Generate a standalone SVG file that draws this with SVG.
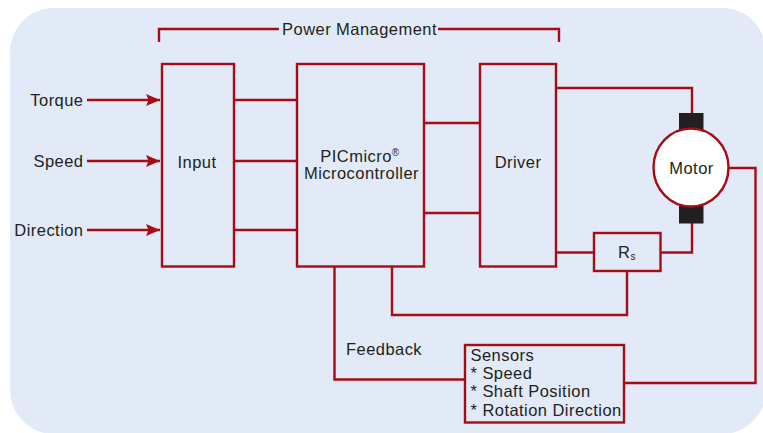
<svg xmlns="http://www.w3.org/2000/svg" width="763" height="433" viewBox="0 0 763 433">
<style>
.ln{fill:none;stroke:#a50d16;stroke-width:2.4;stroke-linejoin:miter}
.bx{fill:none;stroke:#a50d16;stroke-width:2.4}
.t{font-family:"Liberation Sans",Arial,sans-serif;font-size:16.5px;letter-spacing:0.45px;fill:#231f20}
.blk{fill:#231f20}
</style>
<defs>
<marker id="arr" markerWidth="14" markerHeight="12" viewBox="0 0 14 12" refX="14" refY="6" orient="auto" markerUnits="userSpaceOnUse">
<path d="M0,0 L14,6 L0,12 L2.5,6 Z" fill="#a50d16"/>
</marker>
</defs>
<rect x="10" y="8" width="756" height="426" rx="44" ry="44" fill="#e1eaf6"/>
<g id="power-management">
<path class="ln" d="M159,42 V29 H279 M438,29 H559 V42"/>
<text class="t" x="359.5" y="34.5" text-anchor="middle">Power Management</text>
</g>
<g id="connectors">
<path class="ln" d="M87,100 H160" marker-end="url(#arr)"/>
<path class="ln" d="M87,161 H160" marker-end="url(#arr)"/>
<path class="ln" d="M87,230 H160" marker-end="url(#arr)"/>
<path class="ln" d="M234,100 H297 M234,161 H297 M234,230 H297"/>
<path class="ln" d="M424,123 H480 M424,213 H480"/>
<path class="ln" d="M556,88 H692 V114"/>
<path class="ln" d="M692,222 V252.5 H660"/>
<path class="ln" d="M556,252.5 H594"/>
<path class="ln" d="M627,271 V315 H392 V266"/>
<path class="ln" d="M334.5,266 V379.5 H465"/>
<path class="ln" d="M728.5,168 H755.5 V383 H624"/>
</g>
<g id="labels">
<text class="t" x="83.5" y="105.5" text-anchor="end">Torque</text>
<text class="t" x="83.5" y="166.5" text-anchor="end">Speed</text>
<text class="t" x="83.5" y="235.5" text-anchor="end">Direction</text>
<text class="t" x="346" y="355">Feedback</text>
</g>
<g id="input">
<rect class="bx" x="162" y="64" width="72" height="202.5"/>
<text class="t" x="197" y="168" text-anchor="middle">Input</text>
</g>
<g id="picmicro">
<rect class="bx" x="297" y="64" width="127" height="202.5"/>
<text class="t" x="360" y="162" text-anchor="middle">PICmicro<tspan font-size="10" dy="-6">®</tspan></text>
<text class="t" x="361.5" y="178.5" text-anchor="middle">Microcontroller</text>
</g>
<g id="driver">
<rect class="bx" x="480" y="64" width="76" height="202.5"/>
<text class="t" x="518" y="168" text-anchor="middle">Driver</text>
</g>
<g id="motor">
<rect class="blk" x="679" y="113" width="24.5" height="20"/>
<rect class="blk" x="679" y="202" width="24.5" height="21.5"/>
<ellipse cx="691" cy="167.5" rx="37.5" ry="39" fill="#ffffff" stroke="#a50d16" stroke-width="2.4"/>
<text class="t" x="691.5" y="174" text-anchor="middle">Motor</text>
</g>
<g id="rs">
<rect class="bx" x="594" y="233" width="66.5" height="38"/>
<text class="t" x="627" y="258" text-anchor="middle">R<tspan font-size="10" dy="2">s</tspan></text>
</g>
<g id="sensors">
<rect class="bx" x="465" y="345" width="159" height="77.5"/>
<text class="t" x="470.5" y="360.5">Sensors</text>
<text class="t" x="470.5" y="379">* Speed</text>
<text class="t" x="470.5" y="397">* Shaft Position</text>
<text class="t" x="470.5" y="415.5">* Rotation Direction</text>
</g>
</svg>
